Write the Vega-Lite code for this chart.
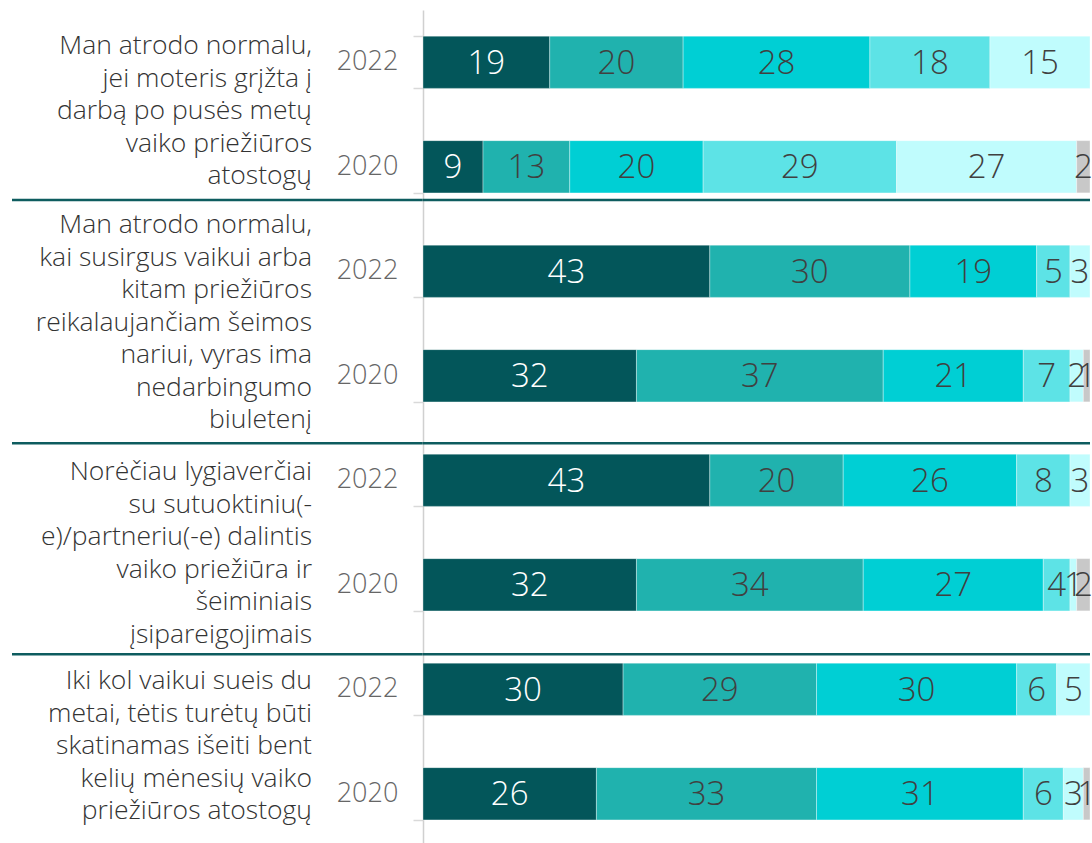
{
  "$schema": "https://vega.github.io/schema/vega-lite/v6.json",
  "padding": {"left": 10, "top": 10, "right": 0, "bottom": 0},
  "background": "white",
  "bounds": "flush",
  "spacing": 0,
  "config": {"view": {"stroke": null}, "font": "Open Sans"},
  "datasets": {
    "bars": [
      {"key": "1-2022", "cat": "Visiškai sutinku", "order": 1, "value": 19},
      {"key": "1-2022", "cat": "Sutinku", "order": 2, "value": 20},
      {"key": "1-2022", "cat": "Iš dalies sutinku", "order": 3, "value": 28},
      {"key": "1-2022", "cat": "Nesutinku", "order": 4, "value": 18},
      {"key": "1-2022", "cat": "Visiškai nesutinku", "order": 5, "value": 15},
      {"key": "1-2020", "cat": "Visiškai sutinku", "order": 1, "value": 9},
      {"key": "1-2020", "cat": "Sutinku", "order": 2, "value": 13},
      {"key": "1-2020", "cat": "Iš dalies sutinku", "order": 3, "value": 20},
      {"key": "1-2020", "cat": "Nesutinku", "order": 4, "value": 29},
      {"key": "1-2020", "cat": "Visiškai nesutinku", "order": 5, "value": 27},
      {"key": "1-2020", "cat": "Nežinau", "order": 6, "value": 2},
      {"key": "2-2022", "cat": "Visiškai sutinku", "order": 1, "value": 43},
      {"key": "2-2022", "cat": "Sutinku", "order": 2, "value": 30},
      {"key": "2-2022", "cat": "Iš dalies sutinku", "order": 3, "value": 19},
      {"key": "2-2022", "cat": "Nesutinku", "order": 4, "value": 5},
      {"key": "2-2022", "cat": "Visiškai nesutinku", "order": 5, "value": 3},
      {"key": "2-2020", "cat": "Visiškai sutinku", "order": 1, "value": 32},
      {"key": "2-2020", "cat": "Sutinku", "order": 2, "value": 37},
      {"key": "2-2020", "cat": "Iš dalies sutinku", "order": 3, "value": 21},
      {"key": "2-2020", "cat": "Nesutinku", "order": 4, "value": 7},
      {"key": "2-2020", "cat": "Visiškai nesutinku", "order": 5, "value": 2},
      {"key": "2-2020", "cat": "Nežinau", "order": 6, "value": 1},
      {"key": "3-2022", "cat": "Visiškai sutinku", "order": 1, "value": 43},
      {"key": "3-2022", "cat": "Sutinku", "order": 2, "value": 20},
      {"key": "3-2022", "cat": "Iš dalies sutinku", "order": 3, "value": 26},
      {"key": "3-2022", "cat": "Nesutinku", "order": 4, "value": 8},
      {"key": "3-2022", "cat": "Visiškai nesutinku", "order": 5, "value": 3},
      {"key": "3-2020", "cat": "Visiškai sutinku", "order": 1, "value": 32},
      {"key": "3-2020", "cat": "Sutinku", "order": 2, "value": 34},
      {"key": "3-2020", "cat": "Iš dalies sutinku", "order": 3, "value": 27},
      {"key": "3-2020", "cat": "Nesutinku", "order": 4, "value": 4},
      {"key": "3-2020", "cat": "Visiškai nesutinku", "order": 5, "value": 1},
      {"key": "3-2020", "cat": "Nežinau", "order": 6, "value": 2},
      {"key": "4-2022", "cat": "Visiškai sutinku", "order": 1, "value": 30},
      {"key": "4-2022", "cat": "Sutinku", "order": 2, "value": 29},
      {"key": "4-2022", "cat": "Iš dalies sutinku", "order": 3, "value": 30},
      {"key": "4-2022", "cat": "Nesutinku", "order": 4, "value": 6},
      {"key": "4-2022", "cat": "Visiškai nesutinku", "order": 5, "value": 5},
      {"key": "4-2020", "cat": "Visiškai sutinku", "order": 1, "value": 26},
      {"key": "4-2020", "cat": "Sutinku", "order": 2, "value": 33},
      {"key": "4-2020", "cat": "Iš dalies sutinku", "order": 3, "value": 31},
      {"key": "4-2020", "cat": "Nesutinku", "order": 4, "value": 6},
      {"key": "4-2020", "cat": "Visiškai nesutinku", "order": 5, "value": 3},
      {"key": "4-2020", "cat": "Nežinau", "order": 6, "value": 1}
    ],
    "years": [
      {"key": "1-2022", "year": "2022"},
      {"key": "1-2020", "year": "2020"},
      {"key": "2-2022", "year": "2022"},
      {"key": "2-2020", "year": "2020"},
      {"key": "3-2022", "year": "2022"},
      {"key": "3-2020", "year": "2020"},
      {"key": "4-2022", "year": "2022"},
      {"key": "4-2020", "year": "2020"}
    ],
    "groups": [
      {"key": "1-2022", "group": 1, "label": "Man atrodo normalu,\njei moteris grįžta į\ndarbą po pusės metų\nvaiko priežiūros\natostogų"},
      {"key": "2-2022", "group": 2, "label": "Man atrodo normalu,\nkai susirgus vaikui arba\nkitam priežiūros\nreikalaujančiam šeimos\nnariui, vyras ima\nnedarbingumo\nbiuletenį"},
      {"key": "3-2022", "group": 3, "label": "Norėčiau lygiaverčiai\nsu sutuoktiniu(-\ne)/partneriu(-e) dalintis\nvaiko priežiūra ir\nšeiminiais\nįsipareigojimais"},
      {"key": "4-2022", "group": 4, "label": "Iki kol vaikui sueis du\nmetai, tėtis turėtų būti\nskatinamas išeiti bent\nkelių mėnesių vaiko\npriežiūros atostogų"}
    ],
    "one": [{"n": 1}]
  },
  "hconcat": [
    {
      "width": 300,
      "height": 836,
      "layer": [
        {
          "data": {"name": "groups"},
          "transform": [{"filter": "datum.group == 1"}],
          "mark": {"type": "text", "align": "right", "baseline": "middle", "lineBreak": "\n", "lineHeight": 32.5, "fontSize": 26.5, "fontWeight": 300, "font": "Open Sans", "color": "#333333", "dx": 0},
          "encoding": {
            "x": {"value": "width"},
            "y": {"field": "key", "type": "nominal", "bandPosition": 0.19, "axis": null,
                  "scale": {"domain": ["1-2022", "1-2020", "2-2022", "2-2020", "3-2022", "3-2020", "4-2022", "4-2020"], "paddingInner": 0.5, "paddingOuter": 0.25}},
            "text": {"field": "label"}
          }
        },
        {
          "data": {"name": "groups"},
          "transform": [{"filter": "datum.group == 2"}],
          "mark": {"type": "text", "align": "right", "baseline": "middle", "lineBreak": "\n", "lineHeight": 32.5, "fontSize": 26.5, "fontWeight": 300, "font": "Open Sans", "color": "#333333", "dx": 0},
          "encoding": {
            "x": {"value": "width"},
            "y": {"field": "key", "type": "nominal", "bandPosition": -0.385, "axis": null},
            "text": {"field": "label"}
          }
        },
        {
          "data": {"name": "groups"},
          "transform": [{"filter": "datum.group >= 3"}],
          "mark": {"type": "text", "align": "right", "baseline": "middle", "lineBreak": "\n", "lineHeight": 32.5, "fontSize": 26.5, "fontWeight": 300, "font": "Open Sans", "color": "#333333", "dx": 0},
          "encoding": {
            "x": {"value": "width"},
            "y": {"field": "key", "type": "nominal", "bandPosition": 0.346, "axis": null},
            "text": {"field": "label"}
          }
        },
        {"data": {"name": "one"}, "mark": {"type": "rule", "color": "#0E5C5F", "strokeWidth": 2.5}, "encoding": {"y": {"datum": "1-2020", "type": "nominal", "bandPosition": 1.135}}},
        {"data": {"name": "one"}, "mark": {"type": "rule", "color": "#0E5C5F", "strokeWidth": 2.5}, "encoding": {"y": {"datum": "2-2020", "type": "nominal", "bandPosition": 1.79}}},
        {"data": {"name": "one"}, "mark": {"type": "rule", "color": "#0E5C5F", "strokeWidth": 2.5}, "encoding": {"y": {"datum": "3-2020", "type": "nominal", "bandPosition": 1.83}}}
      ]
    },
    {
      "width": 111,
      "height": 836,
      "layer": [
        {
          "data": {"name": "years"},
          "mark": {"type": "text", "align": "center", "baseline": "middle", "fontSize": 27, "fontWeight": 300, "font": "Open Sans", "color": "#666666"},
          "encoding": {
            "y": {"field": "key", "type": "nominal", "axis": null,
                  "scale": {"domain": ["1-2022", "1-2020", "2-2022", "2-2020", "3-2022", "3-2020", "4-2022", "4-2020"], "paddingInner": 0.5, "paddingOuter": 0.25}},
            "text": {"field": "year"}
          }
        },
        {"data": {"name": "one"}, "mark": {"type": "rule", "color": "#0E5C5F", "strokeWidth": 2.5}, "encoding": {"y": {"datum": "1-2020", "type": "nominal", "bandPosition": 1.135}}},
        {"data": {"name": "one"}, "mark": {"type": "rule", "color": "#0E5C5F", "strokeWidth": 2.5}, "encoding": {"y": {"datum": "2-2020", "type": "nominal", "bandPosition": 1.79}}},
        {"data": {"name": "one"}, "mark": {"type": "rule", "color": "#0E5C5F", "strokeWidth": 2.5}, "encoding": {"y": {"datum": "3-2020", "type": "nominal", "bandPosition": 1.83}}}
      ]
    },
    {
      "width": 667,
      "height": 836,
      "layer": [
        {
          "data": {"name": "bars"},
          "mark": {"type": "bar", "stroke": "#ffffff", "strokeOpacity": 0.35, "strokeWidth": 1},
          "encoding": {
            "y": {"field": "key", "type": "nominal",
                  "scale": {"domain": ["1-2022", "1-2020", "2-2022", "2-2020", "3-2022", "3-2020", "4-2022", "4-2020"], "paddingInner": 0.5, "paddingOuter": 0.25},
                  "axis": {"title": null, "labels": false, "ticks": true, "tickBand": "extent", "tickSize": 10, "tickColor": "#d9d9d9", "tickWidth": 1.5, "domainColor": "#d0d0d0", "domainWidth": 1.5, "grid": false}},
            "x": {"field": "value", "type": "quantitative", "stack": "zero", "scale": {"domain": [0, 100], "nice": false}, "axis": null},
            "color": {"field": "cat", "type": "nominal", "legend": null,
                      "scale": {"domain": ["Visiškai sutinku", "Sutinku", "Iš dalies sutinku", "Nesutinku", "Visiškai nesutinku", "Nežinau"],
                                "range": ["#03565A", "#20B2AE", "#00CFD4", "#5DE3E6", "#C0FCFD", "#C8C8C8"]}},
            "order": {"field": "order", "type": "quantitative"}
          }
        },
        {
          "data": {"name": "bars"},
          "mark": {"type": "text", "align": "center", "baseline": "middle", "fontSize": 33, "fontWeight": 300, "font": "Open Sans", "dy": 1.5},
          "encoding": {
            "y": {"field": "key", "type": "nominal"},
            "x": {"field": "value", "type": "quantitative", "stack": "zero", "bandPosition": 0.5},
            "text": {"field": "value", "type": "quantitative"},
            "color": {"condition": {"test": "datum.order == 1", "value": "#ffffff"}, "value": "#404040"},
            "order": {"field": "order", "type": "quantitative"}
          }
        },
        {"data": {"name": "one"}, "mark": {"type": "rule", "color": "#0E5C5F", "strokeWidth": 2.5}, "encoding": {"y": {"datum": "1-2020", "type": "nominal", "bandPosition": 1.135}}},
        {"data": {"name": "one"}, "mark": {"type": "rule", "color": "#0E5C5F", "strokeWidth": 2.5}, "encoding": {"y": {"datum": "2-2020", "type": "nominal", "bandPosition": 1.79}}},
        {"data": {"name": "one"}, "mark": {"type": "rule", "color": "#0E5C5F", "strokeWidth": 2.5}, "encoding": {"y": {"datum": "3-2020", "type": "nominal", "bandPosition": 1.83}}}
      ]
    }
  ]
}
